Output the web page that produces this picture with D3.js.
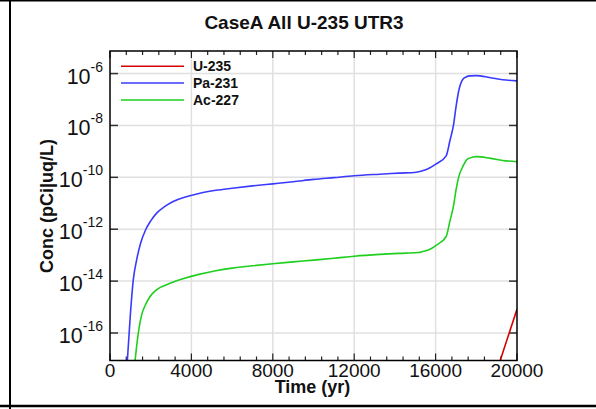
<!DOCTYPE html>
<html><head><meta charset="utf-8">
<script src="https://cdn.jsdelivr.net/npm/d3@7"></script>
<style>html,body{margin:0;padding:0;background:#fff;}svg{display:block;font-family:"Liberation Sans",Arial,sans-serif;}</style>
</head><body><svg id="c" width="596" height="409"></svg>
<script>
const title = "CaseA All U-235 UTR3";
const xLabel = "Time (yr)";
const yLabel = "Conc (pCi|uq/L)";
const seriesNames = ["U-235", "Pa-231", "Ac-227"];
const seriesColors = ["#d40000", "#3a3aff", "#1ecf1e"];
const xTicks = [0, 4000, 8000, 12000, 16000, 20000];
const yTickExps = [-6, -8, -10, -12, -14, -16];

const u235Time = [19000, 20000];
const u235Conc = [3.31e-18, 8.32e-16];

const pa231Time = [849, 1000, 1144, 1310, 1500, 1752, 2000, 2292, 2700, 3107, 3700, 4417, 5200, 6000, 7000, 8000, 9000, 10000, 11000, 12000, 13250, 14200, 15050, 15400, 15700, 16030, 16520, 16700, 16880, 17000, 17130, 17340, 17500, 17670, 18000, 18650, 19300, 20000];
const pa231Conc = [7.94e-18, 5.01e-16, 1.12e-14, 6.61e-14, 2.82e-13, 9.55e-13, 2.09e-12, 4.17e-12, 7.59e-12, 1.17e-11, 1.74e-11, 2.45e-11, 3.16e-11, 3.80e-11, 4.68e-11, 5.62e-11, 6.76e-11, 8.32e-11, 9.77e-11, 1.15e-10, 1.32e-10, 1.45e-10, 1.58e-10, 1.82e-10, 2.29e-10, 3.31e-10, 6.76e-10, 2.51e-9, 1.05e-8, 5.01e-8, 2.04e-7, 6.03e-7, 7.41e-7, 8.13e-7, 8.32e-7, 7.08e-7, 5.75e-7, 5.25e-7];

const ac227Time = [1227, 1310, 1420, 1556, 1750, 1963, 2300, 2783, 3500, 4417, 5200, 6000, 7000, 8000, 9000, 10000, 11000, 12000, 13250, 14200, 15130, 15400, 15700, 16030, 16520, 16700, 16880, 17000, 17130, 17340, 17500, 17670, 18000, 18650, 19300, 20000];
const ac227Conc = [7.94e-18, 3.16e-17, 1.41e-16, 5.01e-16, 1.26e-15, 2.51e-15, 4.68e-15, 7.24e-15, 1.17e-14, 1.86e-14, 2.51e-14, 3.16e-14, 3.89e-14, 4.68e-14, 5.50e-14, 6.46e-14, 7.59e-14, 9.12e-14, 1.07e-13, 1.17e-13, 1.26e-13, 1.41e-13, 1.66e-13, 2.40e-13, 5.25e-13, 2.00e-12, 7.94e-12, 3.16e-11, 1.00e-10, 2.63e-10, 4.47e-10, 5.50e-10, 6.31e-10, 5.50e-10, 4.47e-10, 3.98e-10];

const xDomain = [0, 20000];
const yDomain = [8.71e-18, 7.41e-6];

const svg = d3.select("#c");
const L = 110, R = 517, T = 51, B = 360.5;
const x = d3.scaleLinear().domain(xDomain).range([L, R]);
const y = d3.scaleLog().domain(yDomain).range([B, T]);

// outer frame lines
svg.append("line").attr("x1",0).attr("x2",596).attr("y1",0.75).attr("y2",0.75).attr("stroke","#000").attr("stroke-width",1.5);
svg.append("line").attr("x1",10).attr("x2",10).attr("y1",0).attr("y2",409).attr("stroke","#000").attr("stroke-width",2);
svg.append("line").attr("x1",0).attr("x2",596).attr("y1",406).attr("y2",406).attr("stroke","#000").attr("stroke-width",2.5);

// grid
const yTickVals = yTickExps.map(e => Math.pow(10, e));
svg.append("g").selectAll("line").data(xTicks.slice(1, -1)).join("line")
  .attr("x1", d => x(d)).attr("x2", d => x(d)).attr("y1", T).attr("y2", B)
  .attr("stroke", "#e0e0e0").attr("stroke-width", 1.5);
svg.append("g").selectAll("line").data(yTickVals).join("line")
  .attr("x1", L).attr("x2", R).attr("y1", d => y(d)).attr("y2", d => y(d))
  .attr("stroke", "#e0e0e0").attr("stroke-width", 1.5);

// axes with inward ticks
const minorX = d3.range(0, 20001, 800);
function xAxisTicks(yPos, dir) {
  const g = svg.append("g");
  g.selectAll("line").data(minorX).join("line")
    .attr("x1", d => x(d)).attr("x2", d => x(d))
    .attr("y1", yPos).attr("y2", d => yPos + dir * (d % 4000 === 0 ? 7 : 4))
    .attr("stroke", "#222").attr("stroke-width", 1.2);
}
xAxisTicks(B, -1);
xAxisTicks(T, 1);
function yAxisTicks(xPos, dir) {
  svg.append("g").selectAll("line").data(yTickVals).join("line")
    .attr("x1", xPos).attr("x2", xPos + dir * 8)
    .attr("y1", d => y(d)).attr("y2", d => y(d))
    .attr("stroke", "#333").attr("stroke-width", 1.5);
}
yAxisTicks(L, 1);
yAxisTicks(R, -1);

// x tick labels
svg.append("g").selectAll("text").data(xTicks).join("text")
  .attr("x", d => x(d)).attr("y", 377).attr("text-anchor", "middle")
  .attr("font-size", 19).attr("fill", "#111").text(d => d);

// y tick labels
const yl = svg.append("g").selectAll("text").data(yTickExps).join("text")
  .attr("x", 103).attr("y", d => y(Math.pow(10, d)) + 10).attr("text-anchor", "end")
  .attr("font-size", 21.5).attr("fill", "#111");
yl.append("tspan").text("10");
yl.append("tspan").attr("dy", -12).attr("font-size", 14).text(d => "" + d);

// clip
svg.append("clipPath").attr("id", "clip").append("rect")
  .attr("x", L).attr("y", T).attr("width", R - L).attr("height", B - T);

const line = d3.line().x(d => x(d[0])).y(d => y(d[1])).curve(d3.curveMonotoneX);
const series = [
  d3.zip(u235Time, u235Conc),
  d3.zip(pa231Time, pa231Conc),
  d3.zip(ac227Time, ac227Conc)
];
const lg = svg.append("g").attr("clip-path", "url(#clip)");
series.forEach((s, i) => {
  lg.append("path").attr("d", line(s)).attr("fill", "none")
    .attr("stroke", seriesColors[i]).attr("stroke-width", 1.6);
});

// plot frame
svg.append("rect").attr("x", L).attr("y", T).attr("width", R - L).attr("height", B - T)
  .attr("fill", "none").attr("stroke", "#000").attr("stroke-width", 1.5);

// legend
const legY = [66.3, 83, 100];
seriesNames.forEach((n, i) => {
  svg.append("line").attr("x1", 121).attr("x2", 184).attr("y1", legY[i]).attr("y2", legY[i])
    .attr("stroke", seriesColors[i]).attr("stroke-width", 1.6);
  svg.append("text").attr("x", 193).attr("y", legY[i] + 4.8).attr("font-size", 14)
    .attr("font-weight", "bold").attr("fill", "#111").text(n);
});

// titles
svg.append("text").attr("x", 304).attr("y", 29).attr("text-anchor", "middle")
  .attr("font-size", 19).attr("font-weight", "bold").attr("fill", "#111").text(title);
svg.append("text").attr("x", 312.5).attr("y", 393).attr("text-anchor", "middle")
  .attr("font-size", 18).attr("font-weight", "bold").attr("fill", "#111").text(xLabel);
svg.append("text").attr("transform", "translate(53,206) rotate(-90)").attr("text-anchor", "middle")
  .attr("font-size", 18).attr("font-weight", "bold").attr("fill", "#111").text(yLabel);
</script></body></html>
